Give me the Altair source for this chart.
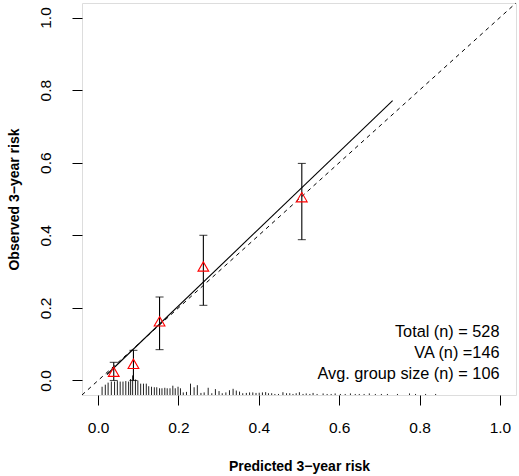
import altair as alt
import pandas as pd

# Calibration groups: mean predicted vs observed 3-year risk with CI
pred = [0.039, 0.088, 0.153, 0.262, 0.507]
obs = [0.024, 0.046, 0.163, 0.314, 0.505]
ci_lo = [0.000, 0.000, 0.085, 0.207, 0.388]
ci_hi = [0.050, 0.083, 0.230, 0.400, 0.598]

# Fitted calibration line
fit_x = [0.022, 0.733]
fit_y = [0.0165, 0.771]

# Ideal line
ideal = [-0.04, 1.04]

# Spike histogram of predicted risks (bin position, relative frequency)
spike_x = [0.010, 0.018, 0.025, 0.033, 0.041, 0.048, 0.055, 0.062, 0.069, 0.076,
           0.081, 0.086, 0.093, 0.099, 0.106, 0.113, 0.120, 0.126, 0.133, 0.140,
           0.146, 0.153, 0.159, 0.166, 0.172, 0.179, 0.186, 0.192, 0.199, 0.205,
           0.212, 0.220, 0.230, 0.239, 0.247, 0.256, 0.264, 0.274, 0.283, 0.292,
           0.301, 0.309, 0.318, 0.327, 0.336, 0.344, 0.352, 0.360, 0.369, 0.377,
           0.385, 0.393, 0.401, 0.409, 0.417, 0.424, 0.432, 0.440, 0.449, 0.460,
           0.469, 0.477, 0.485, 0.493, 0.501, 0.510, 0.518, 0.527, 0.535, 0.545,
           0.560, 0.570, 0.580, 0.590, 0.603, 0.615, 0.628, 0.640, 0.650, 0.662,
           0.675, 0.690, 0.705, 0.720, 0.745, 0.775, 0.790, 0.815, 0.840]
spike_n = [8, 10, 12, 13, 13, 13.5, 13, 13, 13.5, 13,
           15.5, 19, 15, 14, 11, 11, 11, 8.5, 8, 7.5,
           7.5, 6.5, 6.5, 7, 6.5, 6.5, 9, 6.5, 8, 6.5,
           2.5, 3, 11, 7.5, 9.5, 2, 2.5, 7, 1.7, 5.7,
           3.8, 1.7, 2.5, 4.6, 6, 4.3, 3.3, 1.7, 2, 2.5,
           2.5, 2, 2.2, 2.5, 2.8, 1.7, 1.7, 1, 1, 2.7,
           1.7, 1.7, 1, 1.7, 2.7, 1, 1.5, 1, 2, 1,
           1.5, 1, 1, 1.5, 1, 1, 1.5, 1, 1, 1,
           1.5, 1, 1, 1, 1, 1.5, 1, 1, 1]

text_lines = ["Total (n) = 528", "VA (n) =146", "Avg. group size (n) = 106"]

x_ticks = [0.0, 0.2, 0.4, 0.6, 0.8, 1.0]
y_ticks = [0.0, 0.2, 0.4, 0.6, 0.8, 1.0]

FONT = "Liberation Sans"
W, H = 434, 392
base_y = ideal[0]
spike_max = max(spike_n)
spike_frac = 0.05 * (ideal[1] - ideal[0])

grp = pd.DataFrame({"pred": pred, "obs": obs, "lo": ci_lo, "hi": ci_hi})
fit = pd.DataFrame({"x": fit_x, "y": fit_y})
diag = pd.DataFrame({"x": ideal, "y": ideal})
spikes = pd.DataFrame({
    "x": spike_x,
    "y0": [base_y] * len(spike_x),
    "y1": [base_y + n / spike_max * spike_frac for n in spike_n],
})

xs = alt.Scale(domain=ideal, nice=False, zero=False)
ys = alt.Scale(domain=ideal, nice=False, zero=False)

x_axis = alt.Axis(values=x_ticks, format=".1f", tickSize=10, tickColor="black",
                  labelFontSize=15.5, labelColor="black", labelFont=FONT,
                  labelPadding=15, labelFlush=False, domain=False, grid=False,
                  title="Predicted 3\u2212year risk", titleFont=FONT, titleFontSize=14,
                  titleFontWeight="bold", titleColor="black", titleY=71,
                  titleBaseline="middle")
y_axis = alt.Axis(values=y_ticks, format=".1f", tickSize=10, tickColor="black",
                  labelFontSize=15.5, labelColor="black", labelFont=FONT,
                  labelAngle=270, labelAlign="center", labelBaseline="alphabetic",
                  labelPadding=22, labelFlush=False, domain=False, grid=False,
                  title="Observed 3\u2212year risk", titleFont=FONT, titleFontSize=14,
                  titleFontWeight="bold", titleColor="black", titleX=-68,
                  titleY=H / 2, titleBaseline="middle", titleAngle=270)

diag_layer = alt.Chart(diag).mark_line(color="black", strokeWidth=1, strokeDash=[4, 4]).encode(
    x=alt.X("x:Q", scale=xs, axis=x_axis),
    y=alt.Y("y:Q", scale=ys, axis=y_axis),
)

fit_layer = alt.Chart(fit).mark_line(color="black", strokeWidth=1.1).encode(
    x=alt.X("x:Q", scale=xs), y=alt.Y("y:Q", scale=ys))

spike_layer = alt.Chart(spikes).mark_rule(color="#222222", strokeWidth=1).encode(
    x=alt.X("x:Q", scale=xs), y=alt.Y("y0:Q", scale=ys), y2="y1:Q")

err_layer = alt.Chart(grp).mark_rule(color="black", strokeWidth=1.1).encode(
    x=alt.X("pred:Q", scale=xs), y=alt.Y("lo:Q", scale=ys), y2="hi:Q")

cap_lo = alt.Chart(grp).mark_tick(color="black", orient="horizontal", size=8, thickness=1.1).encode(
    x=alt.X("pred:Q", scale=xs), y=alt.Y("lo:Q", scale=ys))
cap_hi = alt.Chart(grp).mark_tick(color="black", orient="horizontal", size=8, thickness=1.1).encode(
    x=alt.X("pred:Q", scale=xs), y=alt.Y("hi:Q", scale=ys))

pts = alt.Chart(grp).mark_point(shape="triangle-up", filled=False, color="#FF0000",
                                size=115, strokeWidth=1.1, opacity=1).encode(
    x=alt.X("pred:Q", scale=xs), y=alt.Y("obs:Q", scale=ys))

text_layers = []
for i, t in enumerate(text_lines):
    text_layers.append(
        alt.Chart(pd.DataFrame({"t": [t]})).mark_text(
            align="right", baseline="middle", font=FONT, fontSize=16.3, color="black"
        ).encode(text="t:N", x=alt.value(417.5), y=alt.value(328.5 + 21 * i))
    )

chart = alt.layer(diag_layer, spike_layer, fit_layer, err_layer, cap_lo, cap_hi, pts,
                  *text_layers).properties(
    width=W, height=H,
    autosize=alt.AutoSizeParams(type="none"),
    padding={"left": 82, "top": 3, "right": 3, "bottom": 81},
).configure_view(stroke="black", strokeWidth=1).configure(background="white")

chart.save("out.html", embed_options={"renderer": "svg", "actions": False})
